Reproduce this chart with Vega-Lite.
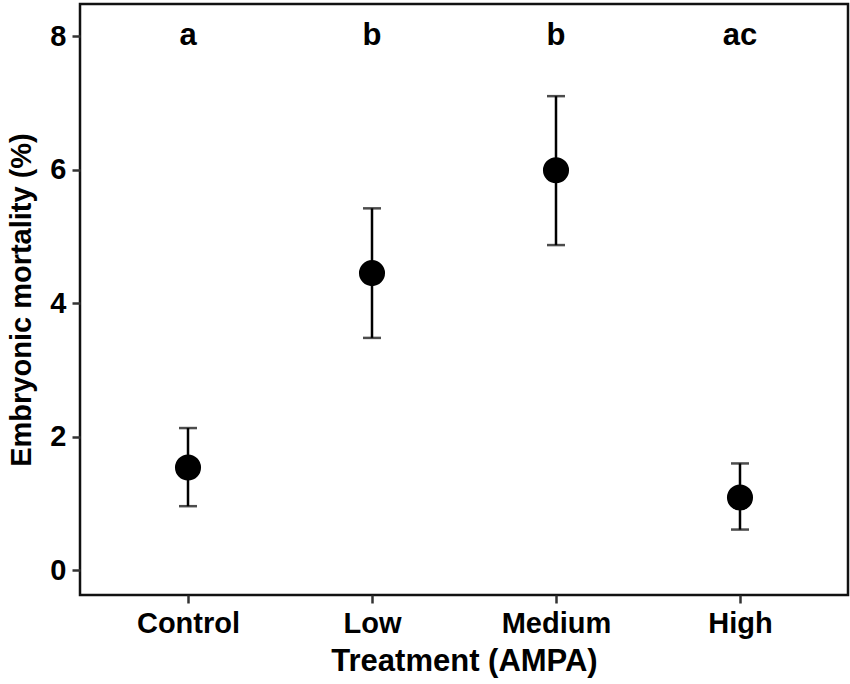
{
  "$schema": "https://vega.github.io/schema/vega-lite/v6.json",
  "autosize": "none",
  "width": 768,
  "height": 591,
  "padding": {"left": 80, "top": 4, "right": 2, "bottom": 89},
  "background": "white",
  "config": {
    "font": "Liberation Sans",
    "view": {"stroke": "#111111", "strokeWidth": 2.5},
    "axis": {
      "grid": false,
      "domain": false,
      "tickColor": "#333333",
      "tickWidth": 2.5,
      "tickSize": 8,
      "labelFont": "Liberation Sans",
      "labelFontWeight": "bold",
      "labelFontSize": 29,
      "labelColor": "#000000",
      "labelPadding": 6,
      "titleFont": "Liberation Sans",
      "titleFontWeight": "bold",
      "titleColor": "#000000"
    }
  },
  "data": {
    "values": [
      {"treatment": "Control", "mean": 1.54, "lo": 0.96, "hi": 2.13, "letter": "a", "ly": 8},
      {"treatment": "Low", "mean": 4.45, "lo": 3.48, "hi": 5.42, "letter": "b", "ly": 8},
      {"treatment": "Medium", "mean": 5.99, "lo": 4.87, "hi": 7.10, "letter": "b", "ly": 8},
      {"treatment": "High", "mean": 1.09, "lo": 0.61, "hi": 1.60, "letter": "ac", "ly": 8}
    ]
  },
  "encoding": {
    "x": {
      "field": "treatment",
      "type": "nominal",
      "sort": ["Control", "Low", "Medium", "High"],
      "scale": {"type": "point", "padding": 0.587},
      "axis": {"title": "Treatment (AMPA)", "labelAngle": 0, "titlePadding": 8, "titleFontSize": 31}
    }
  },
  "layer": [
    {
      "mark": {"type": "errorbar", "thickness": 2.5, "ticks": {"size": 18, "color": "black"}, "rule": {"color": "black"}},
      "encoding": {
        "y": {
          "field": "lo",
          "type": "quantitative",
          "scale": {"domain": [-0.37, 8.48], "nice": false, "zero": false},
          "axis": {"title": "Embryonic mortality (%)", "values": [0, 2, 4, 6, 8], "format": "d", "titlePadding": 13, "titleFontSize": 29}
        },
        "y2": {"field": "hi"}
      }
    },
    {
      "mark": {"type": "point", "filled": true, "shape": "circle", "size": 680, "color": "black", "opacity": 1},
      "encoding": {
        "y": {"field": "mean", "type": "quantitative"}
      }
    },
    {
      "mark": {"type": "text", "font": "Liberation Sans", "fontWeight": "bold", "fontSize": 31, "color": "black", "baseline": "middle"},
      "encoding": {
        "y": {"field": "ly", "type": "quantitative"},
        "text": {"field": "letter"}
      }
    }
  ]
}
